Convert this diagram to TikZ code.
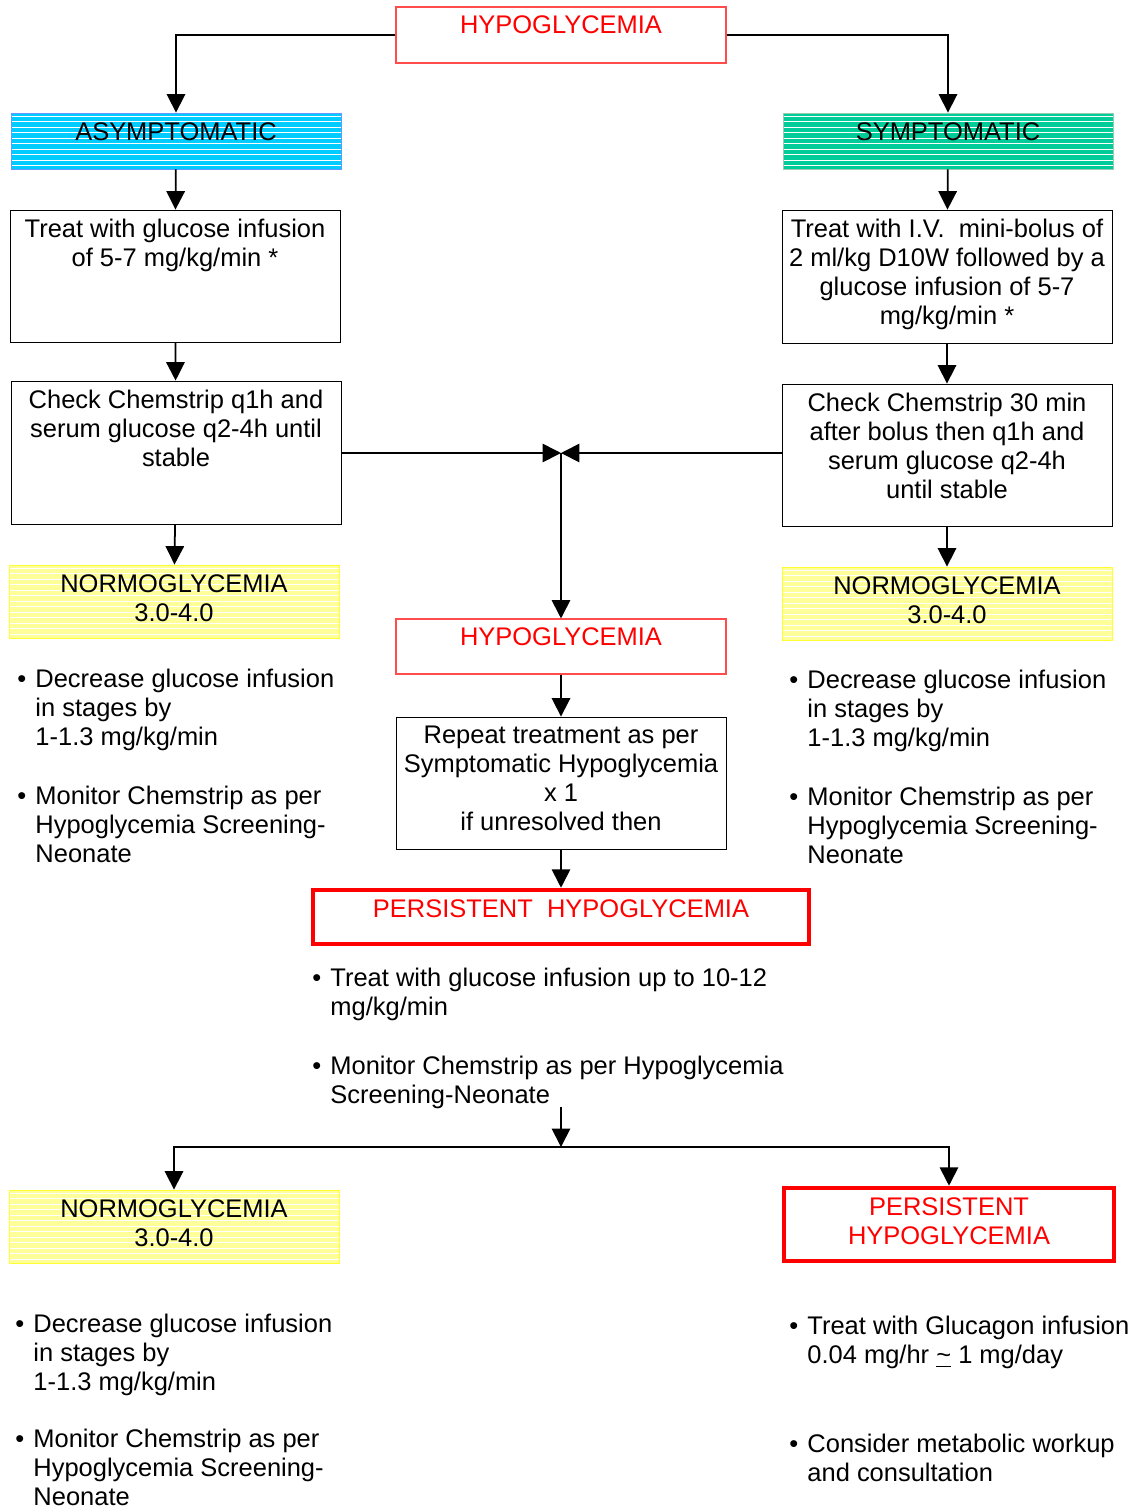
\documentclass[tikz,border=0pt]{standalone}
\usepackage{fontspec}
\setmainfont{Liberation Sans}
\usetikzlibrary{arrows.meta,fit}

\definecolor{asymblue}{HTML}{00CCFF}
\definecolor{asymedge}{HTML}{6699FF}
\definecolor{sympgreen}{HTML}{00CC99}
\definecolor{sympedge}{HTML}{99CCB0}
\definecolor{normyellow}{HTML}{FFFF99}
\definecolor{normedge}{HTML}{FFFF33}

\newcommand{\bul}{\makebox[10.3pt][l]{\textbullet}}
\newcommand{\ind}{\hspace*{10.3pt}}

\begin{document}
\begin{tikzpicture}[x=0.02cm, y=-0.02cm,
    every node/.style={font=\fontsize{14.5}{16.5}\selectfont},
    box/.style={draw, line width=0.5pt, inner sep=0pt},
    redbox/.style={draw=red!70, line width=0.6pt, inner sep=0pt},
    alarm/.style={draw=red, line width=2.6pt, inner sep=0pt},
    stripes/.style={fill=#1, path picture={
        \foreach \s in {3,8.5,...,80}
          \draw[white, line width=0.5pt]
            ([yshift=-\s*0.02cm]path picture bounding box.north west) --
            ([yshift=-\s*0.02cm]path picture bounding box.north east);}},
    txt/.style={anchor=north, align=center, inner sep=0pt, yshift=-5.3pt},
    list/.style={anchor=north west, align=left, inner sep=0pt},
    arr/.style={-{Triangle[length=10.5pt, width=10.5pt]}, line width=1pt}]
  \useasboundingbox (0,0) rectangle (1137,1512);

  % top of the chart
  \node[redbox, fit={(396,7) (726,63)}] (hypo) {};
  \node[txt, red] (hypot) at (hypo.north) {HYPOGLYCEMIA};
  \node[box, stripes=asymblue, draw=asymedge, fit={(11,113) (341,169)}] (asym) {};
  \node[txt] (asymt) at (asym.north) {ASYMPTOMATIC};
  \node[box, stripes=sympgreen, draw=sympedge, fit={(783,113) (1113,169)}] (symp) {};
  \node[txt] (sympt) at (symp.north) {SYMPTOMATIC};

  % left column
  \node[box, fit={(10,210) (340,342)}] (treatl) {};
  \node[txt] (treatlt) at (treatl.north) {Treat with glucose infusion\\of 5-7 mg/kg/min *};
  \node[box, fit={(11,381) (341,524)}] (checkl) {};
  \node[txt] (checklt) at (checkl.north) {Check Chemstrip q1h and\\serum glucose q2-4h until\\stable};
  \node[box, stripes=normyellow, draw=normedge, fit={(9,565) (339,638)}] (norml) {};
  \node[txt] (normlt) at (norml.north) {NORMOGLYCEMIA\\3.0-4.0};
  \node[list] (listl) at (17,669) {\bul Decrease glucose infusion\\\ind in stages by\\\ind 1-1.3 mg/kg/min\\[17pt]
    \bul Monitor Chemstrip as per\\\ind Hypoglycemia Screening-\\\ind Neonate};

  % right column
  \node[box, fit={(782,210) (1112,343)}] (treatr) {};
  \node[txt] (treatrt) at (treatr.north) {Treat with I.V.\ \ mini-bolus of\\2 ml/kg D10W followed by a\\glucose infusion of 5-7\\mg/kg/min *};
  \node[box, fit={(782,384) (1112,526)}] (checkr) {};
  \node[txt] (checkrt) at (checkr.north) {Check Chemstrip 30 min\\after bolus then q1h and\\serum glucose q2-4h\\until stable};
  \node[box, stripes=normyellow, draw=normedge, fit={(782,567) (1112,640)}] (normr) {};
  \node[txt] (normrt) at (normr.north) {NORMOGLYCEMIA\\3.0-4.0};
  \node[list] (listr) at (789,670) {\bul Decrease glucose infusion\\\ind in stages by\\\ind 1-1.3 mg/kg/min\\[17pt]
    \bul Monitor Chemstrip as per\\\ind Hypoglycemia Screening-\\\ind Neonate};

  % middle column
  \coordinate (meet) at (561,453);
  \node[redbox, fit={(396,619) (726,674)}] (hypom) {};
  \node[txt, red] (hypomt) at (hypom.north) {HYPOGLYCEMIA};
  \node[box, fit={(396,717) (726,849)}] (repeat) {};
  \node[txt] (repeatt) at (repeat.north) {Repeat treatment as per\\Symptomatic Hypoglycemia\\x 1\\if unresolved then};
  \node[alarm, fit={(313,890) (809,944)}] (pers) {};
  \node[txt, red, yshift=-1.5pt] (perst) at (pers.north) {PERSISTENT\ \ HYPOGLYCEMIA};
  \node[list] (listm) at (312,968) {\bul Treat with glucose infusion up to 10-12\\\ind mg/kg/min\\[17pt]
    \bul Monitor Chemstrip as per Hypoglycemia\\\ind Screening-Neonate};
  \coordinate (drop) at (561,1107);
  \coordinate (split) at (561,1147);

  % bottom row
  \node[box, stripes=normyellow, draw=normedge, fit={(9,1190) (339,1263)}] (normb) {};
  \node[txt] (normbt) at (normb.north) {NORMOGLYCEMIA\\3.0-4.0};
  \node[list] (listb) at (15,1314) {\bul Decrease glucose infusion\\\ind in stages by\\\ind 1-1.3 mg/kg/min\\[16pt]
    \bul Monitor Chemstrip as per\\\ind Hypoglycemia Screening-\\\ind Neonate};
  \node[alarm, fit={(784,1188) (1114,1261)}] (persb) {};
  \node[txt, red, yshift=-1.5pt] (persbt) at (persb.north) {PERSISTENT\\HYPOGLYCEMIA};
  \node[list] (listbr) at (789,1316) {\bul Treat with Glucagon infusion\\\ind 0.04 mg/hr \underline{\textasciitilde} 1 mg/day\\[34pt]
    \bul Consider metabolic workup\\\ind and consultation};

  % connectors
  \draw[arr] (hypo.west) -| (asym.north);
  \draw[arr] (hypo.east) -| (symp.north);
  \draw[arr] (asym) -- (treatl);
  \draw[arr] (symp) -- (treatr);
  \draw[arr] (treatl) -- (checkl);
  \draw[arr] (treatr) -- (checkr);
  \draw[arr] (checkl) -- (norml);
  \draw[arr] (checkr) -- (normr);
  \draw[arr] (checkl.east |- meet) -- (meet);
  \draw[arr] (checkr.west |- meet) -- (meet);
  \draw[arr] (meet) -- (hypom);
  \draw[arr] (hypom) -- (repeat);
  \draw[arr] (repeat) -- (pers);
  \draw[arr] (drop) -- (split);
  \draw[arr] (split) -| (normb);
  \draw[arr] (split) -| (persb);
\end{tikzpicture}
\end{document}
